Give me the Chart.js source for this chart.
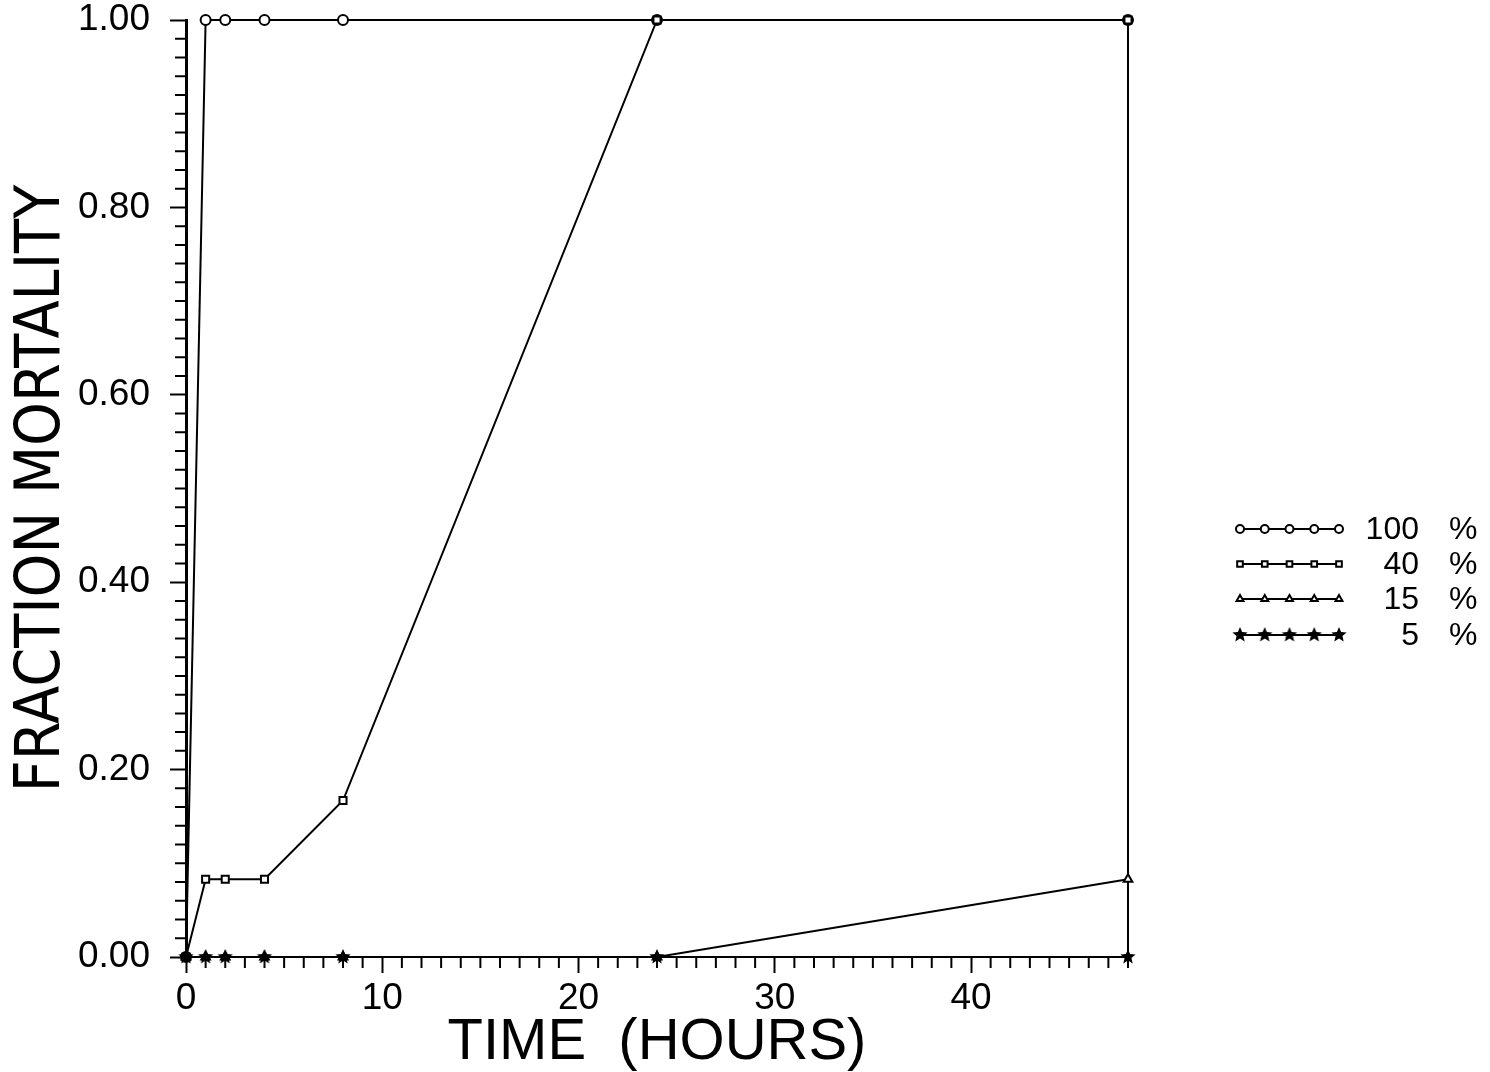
<!DOCTYPE html>
<html>
<head>
<meta charset="utf-8">
<script src="https://cdn.jsdelivr.net/npm/chart.js@4.4.1/dist/chart.umd.min.js"></script>
<style>
  html, body { margin: 0; padding: 0; background: #fff; }
  #wrap { width: 1490px; height: 1072px; }
</style>
</head>
<body>
<div id="wrap"><canvas id="mortChart" width="1490" height="1072"></canvas></div>
<script>
'use strict';

// data
const hours = [0, 1, 2, 4, 8, 24, 48];
const mort100 = [0, 1, 1, 1, 1, 1, 1];
const mort40 = [0, 0.083, 0.083, 0.083, 0.167, 1, 1];
const mort15 = [0, 0, 0, 0, 0, 0, 0.083];
const mort5 = [0, 0, 0, 0, 0, 0, 0];

const seriesLabels = ['100 %', '40 %', '15 %', '5 %'];
const xTickValues = [0, 10, 20, 30, 40];
const yTickValues = [0, 0.2, 0.4, 0.6, 0.8, 1.0];

// filled star marker, the built-in 'star' is just an asterisk
function makeStar(r) {
    const c = document.createElement('canvas');
    c.width = c.height = r * 2 + 2;
    const g = c.getContext('2d');
    g.translate(r + 1, r + 1);
    g.beginPath();
    for (let i = 0; i < 10; i++) {
        const rad = i % 2 === 0 ? r : r * 0.45;
        const a = -Math.PI / 2 + i * Math.PI / 5;
        g.lineTo(rad * Math.cos(a), rad * Math.sin(a));
    }
    g.closePath();
    g.fillStyle = '#000';
    g.fill();
    return c;
}
const starImg = makeStar(8);

const markers = ['circle', 'rect', 'triangle', starImg];
const seriesData = [mort100, mort40, mort15, mort5];

const datasets = seriesData.map((vals, i) => ({
    label: seriesLabels[i],
    data: hours.map((h, j) => ({ x: h, y: vals[j] })),
    borderColor: '#000',
    borderWidth: 2,
    pointStyle: markers[i],
    pointRadius: 5,
    pointBorderWidth: 2,
    pointBorderColor: '#000',
    pointBackgroundColor: '#fff',
    fill: false,
    tension: 0,
    clip: false,
    order: 4 - i
}));

// minor ticks + legend drawn on the canvas
const extras = {
    id: 'extras',
    afterDraw(chart) {
        const ctx = chart.ctx;
        const xs = chart.scales.x, ys = chart.scales.y;
        ctx.save();
        ctx.strokeStyle = '#000';
        ctx.lineWidth = 2;
        ctx.beginPath();
        for (let h = 1; h <= 48; h++) {
            if (h % 10 === 0) continue;
            const px = xs.getPixelForValue(h);
            ctx.moveTo(px, xs.top);
            ctx.lineTo(px, xs.top + 11);
        }
        for (let k = 1; k < 50; k++) {
            if (k % 10 === 0) continue;
            const py = ys.getPixelForValue(k * 0.02);
            ctx.moveTo(ys.right - 11, py);
            ctx.lineTo(ys.right, py);
        }
        ctx.stroke();

        // legend
        const rowY = [529, 564, 599, 635];
        const x0 = 1240, x1 = 1339;
        chart.data.datasets.forEach((ds, i) => {
            const y = rowY[i];
            ctx.beginPath();
            ctx.lineWidth = 2;
            ctx.strokeStyle = '#000';
            ctx.moveTo(x0, y);
            ctx.lineTo(x1, y);
            ctx.stroke();
            for (let m = 0; m < 5; m++) {
                const mx = x0 + (x1 - x0) * m / 4;
                ctx.fillStyle = '#fff';
                ctx.strokeStyle = '#000';
                Chart.helpers.drawPoint(ctx, {
                    pointStyle: ds.pointStyle,
                    radius: 4,
                    borderWidth: 2
                }, mx, y);
            }
            const parts = ds.label.split(' ');
            ctx.fillStyle = '#000';
            ctx.font = '32px "Liberation Sans", Arial, sans-serif';
            ctx.textBaseline = 'middle';
            ctx.textAlign = 'right';
            ctx.fillText(parts[0], 1419, y + 1);
            ctx.textAlign = 'left';
            ctx.fillText(parts[1], 1449, y + 1);
        });
        ctx.restore();
    }
};

const ctx = document.getElementById('mortChart');
const mortChart = new Chart(ctx, {
    type: 'line',
    data: { datasets: datasets },
    options: {
        responsive: false,
        animation: false,
        devicePixelRatio: 1,
        layout: { padding: { top: 20, left: 0, right: 0, bottom: 0 } },
        plugins: {
            legend: { display: false },
            tooltip: { enabled: false }
        },
        scales: {
            x: {
                type: 'linear',
                min: 0,
                max: 48,
                afterBuildTicks: s => { s.ticks = xTickValues.map(v => ({ value: v })); },
                afterFit: s => { s.height = 115; s.paddingLeft = 0; s.paddingRight = 0; },
                grid: { drawOnChartArea: false, tickLength: 16, tickWidth: 2, tickColor: '#000' },
                border: { display: true, color: '#000', width: 2 },
                ticks: {
                    color: '#000',
                    padding: 4,
                    font: { family: '"Liberation Sans", Arial, sans-serif', size: 37 }
                },
                title: {
                    display: true,
                    text: 'TIME  (HOURS)',
                    color: '#000',
                    padding: 0,
                    font: { family: '"Liberation Sans", Arial, sans-serif', size: 58, lineHeight: 1.0 }
                }
            },
            y: {
                type: 'linear',
                min: 0,
                max: 1,
                afterBuildTicks: s => { s.ticks = yTickValues.map(v => ({ value: v })); },
                afterFit: s => { s.width = 186; s.paddingTop = 0; s.paddingBottom = 0; },
                grid: { drawOnChartArea: false, tickLength: 16, tickWidth: 2, tickColor: '#000' },
                border: { display: true, color: '#000', width: 3 },
                ticks: {
                    color: '#000',
                    padding: 20,
                    callback: v => v.toFixed(2),
                    font: { family: '"Liberation Sans", Arial, sans-serif', size: 37 }
                },
                title: {
                    display: true,
                    text: 'FRACTION MORTALITY',
                    color: '#000',
                    padding: 6,
                    font: { family: '"Liberation Sans Narrow", "DejaVu Sans Condensed", sans-serif', size: 62, lineHeight: 1.2 }
                }
            },
            y2: {
                type: 'linear',
                position: 'right',
                min: 0,
                max: 1,
                afterFit: s => { s.width = 362; s.paddingTop = 0; s.paddingBottom = 0; },
                grid: { display: true, drawOnChartArea: false, drawTicks: false },
                border: { display: true, color: '#000', width: 2 },
                ticks: { display: false }
            }
        }
    },
    plugins: [extras]
});
</script>
</body>
</html>
